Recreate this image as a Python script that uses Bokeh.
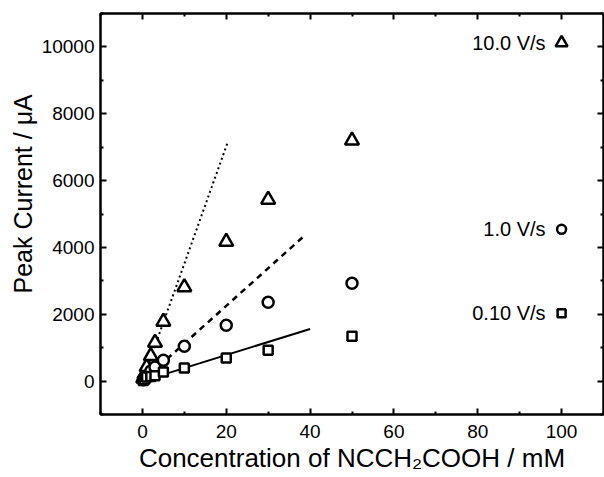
from bokeh.plotting import figure
from bokeh.models import Range1d, LinearAxis, FixedTicker, ColumnDataSource, Title
from bokeh.core.properties import value
from bokeh.embed import file_html
from bokeh.resources import INLINE

# Data
conc = [0.2, 0.5, 1, 2, 3, 5, 10, 20, 30, 50]
i_10 = [80, 200, 420, 750, 1150, 1780, 2810, 4170, 5430, 7200]
i_1 = [40, 90, 150, 300, 420, 620, 1040, 1670, 2360, 2930]
i_01 = [20, 50, 120, 140, 160, 270, 390, 690, 925, 1340]

fit_x_01 = [0, 40]
fit_y_01 = [0, 1560]
fit_x_1 = [0, 39]
fit_y_1 = [0, 4390]
fit_x_10 = [0, 20.3]
fit_y_10 = [0, 7130]

legend_labels = ["10.0 V/s", "1.0 V/s", "0.10 V/s"]
legend_x = [100, 100, 100]
legend_y = [10120, 4540, 2030]

x_ticks = [0, 20, 40, 60, 80, 100]
x_minor = [-10, 10, 30, 50, 70, 90, 110]
y_ticks = [0, 2000, 4000, 6000, 8000, 10000]
y_minor = [-1000, 1000, 3000, 5000, 7000, 9000, 11000]

x_title = "Concentration of NCCH₂COOH / mM"
y_title = "Peak Current / μA"

FONT = "Liberation Sans"

p = figure(width=604, height=477, output_backend="svg", toolbar_location=None,
           x_range=Range1d(-10, 110), y_range=Range1d(-1000, 11000),
           min_border_left=100, min_border_right=1, min_border_top=13, min_border_bottom=63)
p.background_fill_color = "white"
p.border_fill_color = "white"
p.grid.visible = False
p.outline_line_color = "black"
p.outline_line_width = 2

def style(ax, labels=True):
    ax.axis_line_width = 2
    ax.axis_line_color = "black"
    ax.major_tick_in = 6
    ax.major_tick_out = 0
    ax.minor_tick_in = 3
    ax.minor_tick_out = 0
    ax.major_tick_line_width = 2
    ax.minor_tick_line_width = 2
    ax.major_label_text_font = FONT
    ax.major_label_text_font_size = "19px"
    ax.major_label_text_color = "black"
    ax.axis_label_text_font = FONT
    ax.axis_label_text_font_size = "26px"
    ax.axis_label_text_font_style = "normal"
    ax.axis_label_text_color = "black"
    if not labels:
        ax.major_label_text_font_size = "0px"
        ax.major_label_text_alpha = 0

xax = p.xaxis[0]
xax.ticker = FixedTicker(ticks=x_ticks, minor_ticks=x_minor)
style(xax)
xax.major_label_standoff = 10
xax.axis_label = x_title
xax.axis_label_standoff = 2

yax = p.yaxis[0]
yax.ticker = FixedTicker(ticks=y_ticks, minor_ticks=y_minor)
style(yax)
yax.major_label_standoff = 6

# y title as a side title, placed slightly above centre as in the source
ytitle = Title(text=y_title, align="left", offset=121, standoff=4,
               text_font=FONT, text_font_size="25px", text_font_style="normal",
               text_color="black")
p.add_layout(ytitle, "left")

rax = LinearAxis(ticker=FixedTicker(ticks=y_ticks, minor_ticks=y_minor))
style(rax, labels=False)
p.add_layout(rax, "right")
tax = LinearAxis(ticker=FixedTicker(ticks=x_ticks, minor_ticks=x_minor))
style(tax, labels=False)
p.add_layout(tax, "above")

# fit lines
p.line(fit_x_01, fit_y_01, line_color="black", line_width=2)
p.line(fit_x_1, fit_y_1, line_color="black", line_width=2.5, line_dash="6 5")
p.line(fit_x_10, fit_y_10, line_color="black", line_width=2, line_dash="2 3")

# data
p.scatter(conc, i_10, marker="triangle", size=14, fill_color="white", line_color="black", line_width=2.5)
p.scatter(conc, i_1, marker="circle", size=11, fill_color="white", line_color="black", line_width=2.5)
p.scatter(conc, i_01, marker="square", size=9, fill_color="white", line_color="black", line_width=2.5)

# legend-like markers
p.scatter([legend_x[0]], [legend_y[0]], marker="triangle", size=12, fill_color="white", line_color="black", line_width=2.5)
p.scatter([legend_x[1]], [legend_y[1]], marker="circle", size=9, fill_color="white", line_color="black", line_width=2.5)
p.scatter([legend_x[2]], [legend_y[2]], marker="square", size=8, fill_color="white", line_color="black", line_width=2.5)

src = ColumnDataSource(dict(x=legend_x, y=legend_y, t=legend_labels))
p.text(x="x", y="y", text="t", source=src, x_offset=-16, text_align="right",
       text_baseline="middle", text_font=value(FONT), text_font_size="20px", text_color="black")

open("out.html", "w").write(file_html(p, INLINE))
